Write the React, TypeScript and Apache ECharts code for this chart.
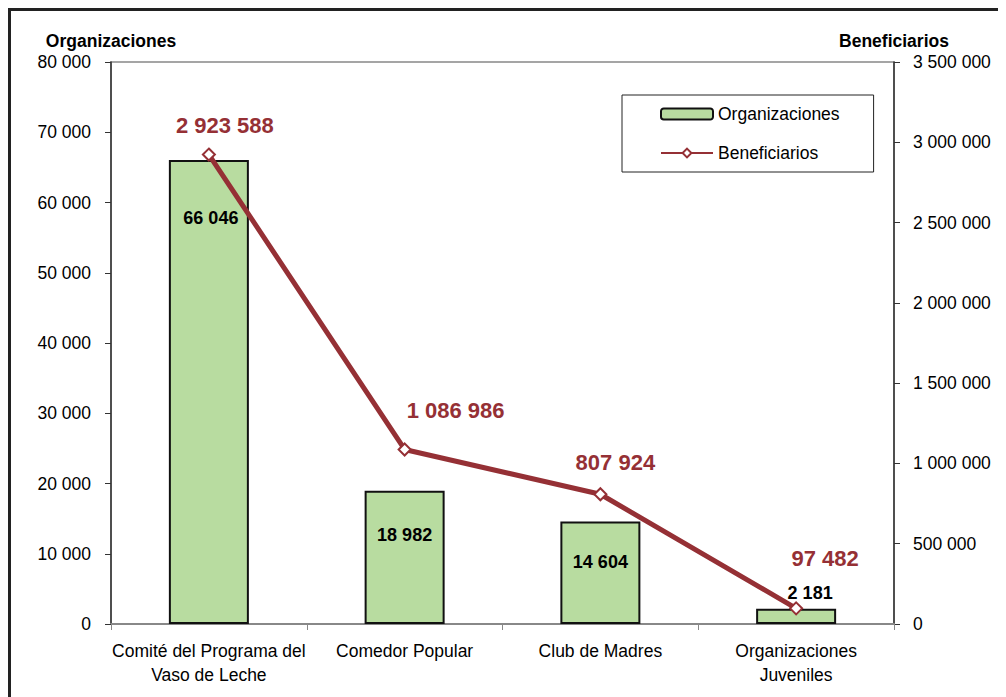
import React, { useEffect, useRef } from "react";
import * as echarts from "echarts";

const categories = [
  "Comité del Programa del\nVaso de Leche",
  "Comedor Popular",
  "Club de Madres",
  "Organizaciones\nJuveniles",
];
const organizaciones = [66046, 18982, 14604, 2181];
const beneficiarios = [2923588, 1086986, 807924, 97482];

const leftTicks = { min: 0, max: 80000, interval: 10000 };
const rightTicks = { min: 0, max: 3500000, interval: 500000 };

// label placement tweaks (style, not data)
const barLabelOffsets = [[2, 44], [0, 30], [0, 27], [14, -2]];
const lineLabelOffsets = [[16, -6], [51, -16], [15, -9], [29, -27]];

const FONT = "'Liberation Sans Narrow', 'Arial Narrow', 'Liberation Sans', Arial, sans-serif";
const RED = "#953035";
const GREEN = "#b8dca0";
const FS = 17.5;

const fmt = (v: number) => String(v).replace(/\B(?=(\d{3})+(?!\d))/g, " ");

export default function App() {
  const ref = useRef<HTMLDivElement>(null);
  useEffect(() => {
    if (!ref.current) return;
    const chart = echarts.init(ref.current, undefined, { renderer: "svg" });
    chart.setOption({
      animation: false,
      textStyle: { fontFamily: FONT },
      graphic: [
        {
          type: "rect",
          shape: { x: 1.5, y: 1.5, width: 1100, height: 1000 },
          style: { fill: "none", stroke: "#222", lineWidth: 3 },
          z: 100,
        },
      ],
      grid: {
        left: 103,
        right: 112,
        top: 54,
        bottom: 73,
        show: true,
        borderColor: "#888",
        borderWidth: 1.5,
      },
      legend: {
        orient: "vertical",
        left: 614,
        top: 87,
        padding: [10, 34, 10, 38],
        borderColor: "#222",
        borderWidth: 1,
        itemGap: 21,
        itemWidth: 52,
        itemHeight: 11,
        textStyle: { fontFamily: FONT, fontSize: FS, color: "#000" },
        data: ["Organizaciones", "Beneficiarios"],
      },
      xAxis: {
        type: "category",
        data: categories,
        boundaryGap: true,
        axisLine: { lineStyle: { color: "#888", width: 2 } },
        axisTick: { show: true, length: 6, lineStyle: { color: "#888" } },
        axisLabel: {
          fontFamily: FONT,
          fontSize: FS,
          color: "#000",
          margin: 15,
          lineHeight: 24,
          interval: 0,
        },
      },
      yAxis: [
        {
          type: "value",
          ...leftTicks,
          name: "Organizaciones",
          nameLocation: "end",
          nameGap: 12,
          nameTextStyle: { fontFamily: FONT, fontSize: FS, fontWeight: "bold", color: "#000" },
          axisLine: { show: true, lineStyle: { color: "#333", width: 1.5 } },
          axisTick: { show: true, length: 6, lineStyle: { color: "#333" } },
          axisLabel: {
            fontFamily: FONT,
            fontSize: FS,
            color: "#000",
            margin: 20,
            formatter: (v: number) => fmt(v),
          },
          splitLine: { show: false },
        },
        {
          type: "value",
          ...rightTicks,
          position: "right",
          name: "Beneficiarios",
          nameLocation: "end",
          nameGap: 12,
          nameTextStyle: { fontFamily: FONT, fontSize: FS, fontWeight: "bold", color: "#000" },
          axisLine: { show: true, lineStyle: { color: "#333", width: 1.5 } },
          axisTick: { show: true, length: 6, lineStyle: { color: "#333" } },
          axisLabel: {
            fontFamily: FONT,
            fontSize: FS,
            color: "#000",
            margin: 19,
            formatter: (v: number) => fmt(v),
          },
          splitLine: { show: false },
        },
      ],
      series: [
        {
          name: "Organizaciones",
          type: "bar",
          yAxisIndex: 0,
          barWidth: 80,
          itemStyle: { color: GREEN, borderColor: "#111", borderWidth: 2 },
          data: organizaciones.map((v, i) => ({
            value: v,
            label: {
              position: i === organizaciones.length - 1 ? "top" : "insideTop",
              offset: barLabelOffsets[i],
            },
          })),
          label: {
            show: true,
            fontFamily: FONT,
            fontSize: 18,
            fontWeight: "bold",
            color: "#000",
            formatter: (p: any) => fmt(p.value),
          },
        },
        {
          name: "Beneficiarios",
          type: "line",
          yAxisIndex: 1,
          symbol: "diamond",
          symbolSize: 12,
          lineStyle: { color: RED, width: 5 },
          itemStyle: { color: "#fff", borderColor: RED, borderWidth: 2 },
          data: beneficiarios.map((v, i) => ({
            value: v,
            label: { offset: lineLabelOffsets[i] },
          })),
          label: {
            show: true,
            position: "top",
            fontFamily: FONT,
            fontSize: 22,
            fontWeight: "bold",
            color: RED,
            formatter: (p: any) => fmt(p.value),
          },
          z: 5,
        },
      ],
    });
    return () => chart.dispose();
  }, []);
  return <div ref={ref} style={{ width: 998, height: 689 }} />;
}
